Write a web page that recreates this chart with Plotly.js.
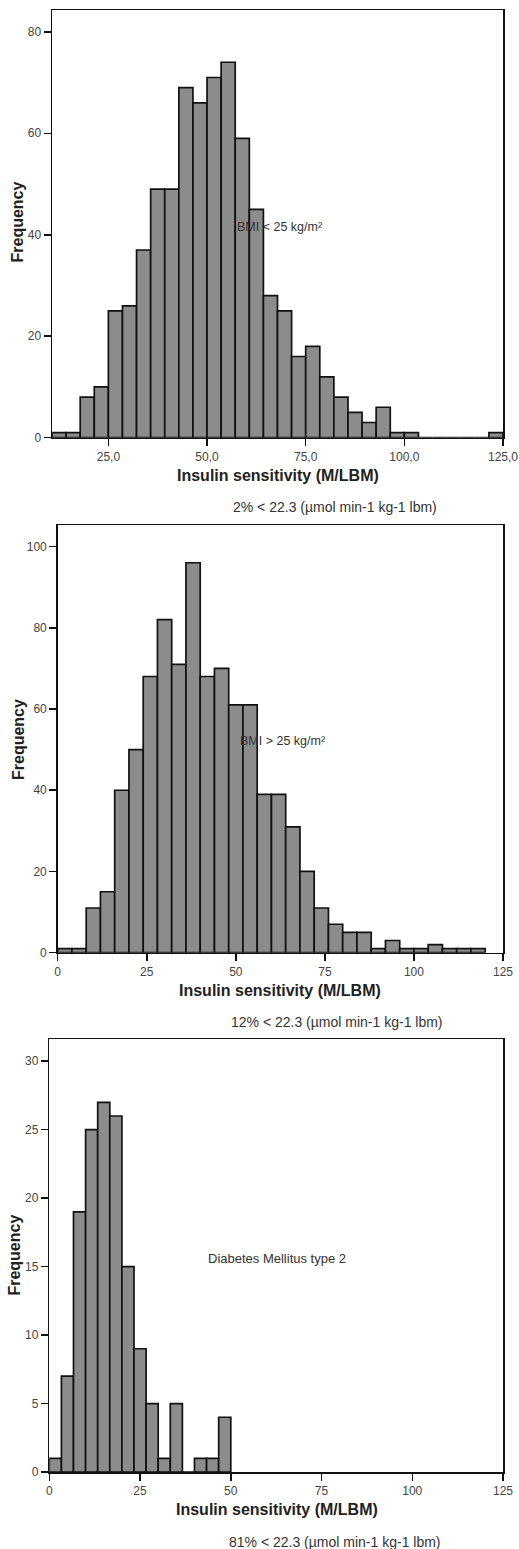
<!DOCTYPE html>
<html>
<head>
<meta charset="utf-8">
<script src="https://cdn.plot.ly/plotly-3.0.1.min.js"></script>
<style>html,body{margin:0;padding:0;background:#fff;}#chart{width:519px;height:1549px;}</style>
</head>
<body>
<div id="chart"></div>
<script>
// ---- Data ----
// Panel 1: BMI < 25 kg/m2
const lowBinStart = 10.714;
const lowBinWidth = 25 / 7;
const lowCounts = [1, 1, 8, 10, 25, 26, 37, 49, 49, 69, 66, 71, 74, 59, 45, 28, 25, 16, 18, 12, 8, 5, 3, 6, 1, 1, 0, 0, 0, 0, 0, 1];
const lowXTickVals = [25, 50, 75, 100, 125];
const lowXTickText = ["25,0", "50,0", "75,0", "100,0", "125,0"];
const lowYTickVals = [0, 20, 40, 60, 80];

// Panel 2: BMI > 25 kg/m2
const highBinStart = 0;
const highBinWidth = 4;
const highCounts = [1, 1, 11, 15, 40, 50, 68, 82, 71, 96, 68, 70, 61, 61, 39, 39, 31, 20, 11, 7, 5, 5, 1, 3, 1, 1, 2, 1, 1, 1];
const highXTickVals = [0, 25, 50, 75, 100, 125];
const highYTickVals = [0, 20, 40, 60, 80, 100];

// Panel 3: Diabetes Mellitus type 2
const dmBinStart = 0;
const dmBinWidth = 50 / 15;
const dmCounts = [1, 7, 19, 25, 27, 26, 15, 9, 5, 1, 5, 0, 1, 1, 4];
const dmXTickVals = [0, 25, 50, 75, 100, 125];
const dmYTickVals = [0, 5, 10, 15, 20, 25, 30];

const labels = ["BMI < 25 kg/m²", "BMI > 25 kg/m²", "Diabetes Mellitus type 2"];
const notes = ["2% < 22.3 (µmol min-1 kg-1 lbm)", "12% < 22.3 (µmol min-1 kg-1 lbm)", "81% < 22.3 (µmol min-1 kg-1 lbm)"];
const xTitle = "Insulin sensitivity (M/LBM)";
const yTitle = "Frequency";

// ---- Layout helpers ----
const W = 519, H = 1549;
const px = v => v / W;
const py = v => 1 - v / H;
const FONT = '"Liberation Sans", Arial, sans-serif';

function centers(start, width, counts) {
  return counts.map((_, i) => start + width * (i + 0.5));
}

function barTrace(start, width, counts, xa, ya) {
  return {
    type: 'bar',
    x: centers(start, width, counts),
    y: counts,
    width: counts.map(() => width),
    xaxis: xa, yaxis: ya,
    marker: {color: '#8c8c8c', line: {color: '#111', width: 1.7}},
    hoverinfo: 'x+y',
    showlegend: false
  };
}

const traces = [
  barTrace(lowBinStart, lowBinWidth, lowCounts, 'x', 'y'),
  barTrace(highBinStart, highBinWidth, highCounts, 'x2', 'y2'),
  barTrace(dmBinStart, dmBinWidth, dmCounts, 'x3', 'y3')
];

function xAxis(domL, domR, range, tv, tt, anchor) {
  const a = {
    domain: [px(domL), px(domR)], range: range, anchor: anchor,
    showline: true, mirror: true, linecolor: '#111', linewidth: 1.5,
    ticks: 'outside', ticklen: 7, tickwidth: 1.5, tickcolor: '#111',
    tickvals: tv, showgrid: false, zeroline: false, fixedrange: true,
    tickfont: {family: FONT, size: 12, color: '#444'}
  };
  if (tt) a.ticktext = tt;
  return a;
}
function yAxis(top, bottom, range, tv, anchor) {
  return {
    domain: [py(bottom), py(top)], range: range, anchor: anchor,
    showline: true, mirror: true, linecolor: '#111', linewidth: 1.5,
    ticks: 'outside', ticklen: 7, tickwidth: 1.5, tickcolor: '#111',
    tickvals: tv, showgrid: false, zeroline: false, fixedrange: true,
    tickfont: {family: FONT, size: 12, color: '#444'}
  };
}

function txt(text, x, y, size, bold, xanchor, angle) {
  return {
    text: bold ? '<b>' + text + '</b>' : text,
    xref: 'paper', yref: 'paper', x: px(x), y: py(y),
    xanchor: xanchor || 'center', yanchor: 'middle',
    showarrow: false, textangle: angle || 0,
    font: {family: FONT, size: size, color: bold ? '#222' : '#333'}
  };
}

const layout = {
  width: W, height: H,
  margin: {l: 0, r: 0, t: 0, b: 0},
  paper_bgcolor: '#fff', plot_bgcolor: '#fff',
  bargap: 0,
  showlegend: false,
  xaxis: xAxis(52, 503, [lowBinStart, 125], lowXTickVals, lowXTickText, 'y'),
  yaxis: yAxis(10, 437.7, [0, 84.3], lowYTickVals, 'x'),
  xaxis2: xAxis(57.7, 503, [0, 125], highXTickVals, null, 'y2'),
  yaxis2: yAxis(525, 952.7, [0, 105.3], highYTickVals, 'x2'),
  xaxis3: xAxis(49.3, 503, [0, 125], dmXTickVals, null, 'y3'),
  yaxis3: yAxis(1039.3, 1472, [0, 31.6], dmYTickVals, 'x3'),
  annotations: [
    txt(labels[0], 235, 227, 12.5, false, 'left'),
    txt(labels[1], 237.7, 741, 12.5, false, 'left'),
    txt(labels[2], 206, 1258.7, 13, false, 'left'),
    txt(xTitle, 278, 475.7, 16, true),
    txt(xTitle, 280, 990, 16, true),
    txt(xTitle, 277, 1509.3, 16, true),
    txt(yTitle, 17.5, 222, 16, true, 'center', -90),
    txt(yTitle, 18, 739, 16, true, 'center', -90),
    txt(yTitle, 15, 1255.6, 16, true, 'center', -90),
    txt(notes[0], 335, 506.7, 14),
    txt(notes[1], 336.5, 1022, 14),
    txt(notes[2], 335, 1541.7, 14)
  ]
};

Plotly.newPlot('chart', traces, layout, {staticPlot: true, displayModeBar: false});
</script>
</body>
</html>
